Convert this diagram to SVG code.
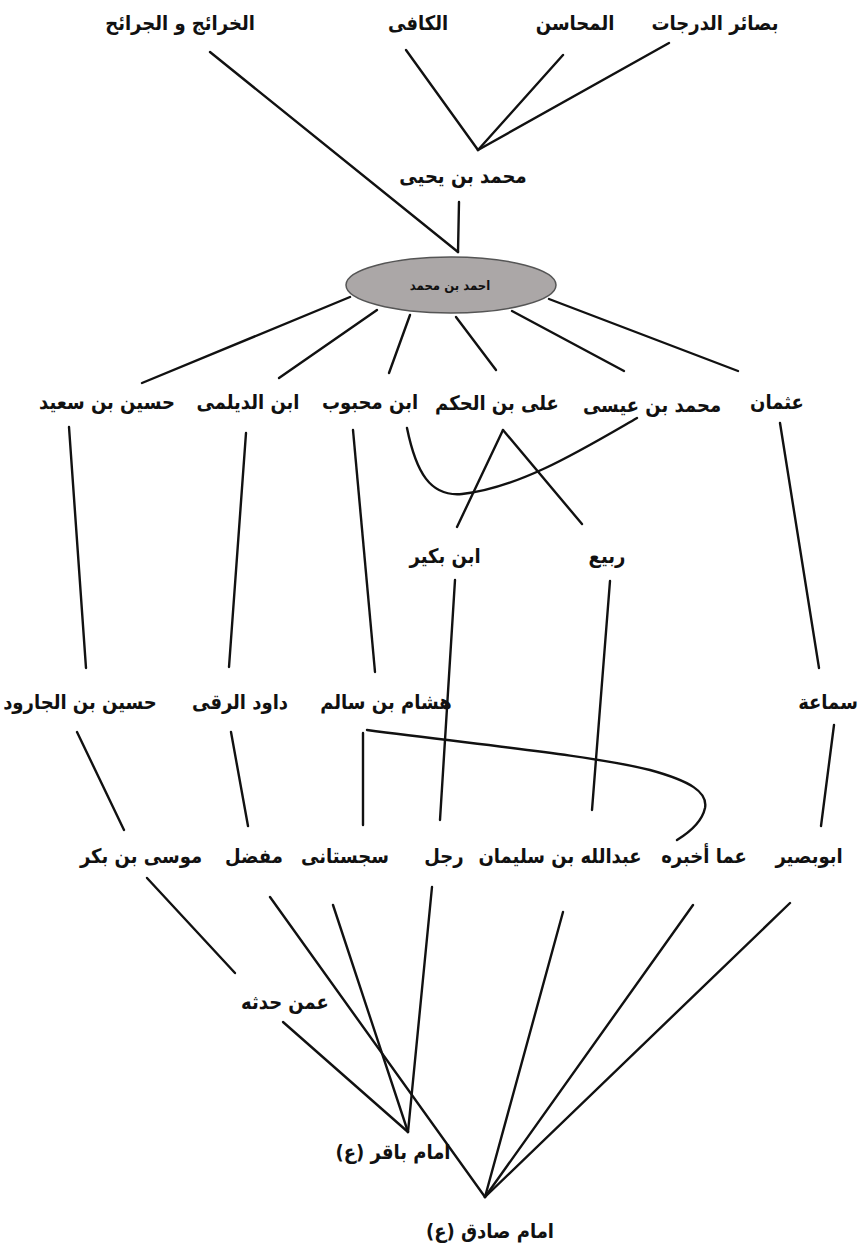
<svg xmlns="http://www.w3.org/2000/svg" width="861" height="1252" viewBox="0 0 861 1252">
<style>
.t{font-family:"DejaVu Sans Condensed","DejaVu Sans","Noto Sans",sans-serif;font-weight:bold;font-size:20px;fill:#111;text-anchor:middle;dominant-baseline:middle}
.s{font-size:13px}
.c line,.c path{stroke:#111;stroke-width:2.4;fill:none;stroke-linecap:round}
</style>
<rect width="861" height="1252" fill="#fff"/>
<g class="c" id="connectors">
<line x1="210" y1="52" x2="458" y2="252"/>
<line x1="406" y1="50" x2="478" y2="150"/>
<line x1="563" y1="55" x2="478" y2="150"/>
<line x1="669" y1="43" x2="478" y2="150"/>
<line x1="459" y1="202" x2="458" y2="252"/>
<line x1="350" y1="297" x2="142" y2="383"/>
<line x1="377" y1="310" x2="279" y2="378"/>
<line x1="410" y1="315" x2="389" y2="373"/>
<line x1="456" y1="317" x2="496" y2="370"/>
<line x1="512" y1="311" x2="624" y2="371"/>
<line x1="549" y1="299" x2="738" y2="371"/>
<line x1="69" y1="427" x2="86" y2="668"/>
<line x1="246" y1="433" x2="229" y2="667"/>
<line x1="353" y1="430" x2="375" y2="672"/>
<line x1="780" y1="423" x2="819" y2="668"/>
<path d="M407,428 C416,472 430,497 462,494 C520,488 585,448 637,418"/>
<line x1="503" y1="430" x2="457" y2="527"/>
<line x1="503" y1="430" x2="582" y2="524"/>
<line x1="455" y1="580" x2="440" y2="820"/>
<line x1="610" y1="581" x2="592" y2="810"/>
<line x1="77" y1="732" x2="124" y2="830"/>
<line x1="231" y1="732" x2="248" y2="826"/>
<line x1="363" y1="733" x2="363" y2="825"/>
<path d="M367,730 C480,745 590,755 650,770 C690,781 708,792 705,808 C702,822 690,832 677,840"/>
<line x1="834" y1="725" x2="821" y2="826"/>
<line x1="147" y1="878" x2="235" y2="973"/>
<line x1="283" y1="1022" x2="408" y2="1132"/>
<line x1="270" y1="897" x2="485" y2="1197"/>
<line x1="333" y1="905" x2="408" y2="1132"/>
<line x1="432" y1="887" x2="408" y2="1132"/>
<line x1="563" y1="912" x2="485" y2="1197"/>
<line x1="693" y1="905" x2="485" y2="1197"/>
<line x1="790" y1="903" x2="485" y2="1197"/>
</g>
<g id="n-kharaij"><text class="t" x="180" y="24">الخرائج و الجرائح</text></g>
<g id="n-kafi"><text class="t" x="418" y="24">الكافى</text></g>
<g id="n-mahasin"><text class="t" x="575" y="24">المحاسن</text></g>
<g id="n-basair"><text class="t" x="715" y="24">بصائر الدرجات</text></g>
<g id="n-myahya"><text class="t" x="463" y="177">محمد بن يحيى</text></g>
<g id="n-ahmad"><ellipse cx="451" cy="285" rx="105" ry="28" fill="#aba7a7" stroke="#555" stroke-width="1.5"/><text class="t s" x="450" y="286">احمد بن محمد</text></g>
<g id="n-husaynsaid"><text class="t" x="107" y="403">حسين بن سعيد</text></g>
<g id="n-daylami"><text class="t" x="248" y="403">ابن الديلمى</text></g>
<g id="n-mahbub"><text class="t" x="370" y="403">ابن محبوب</text></g>
<g id="n-alihakam"><text class="t" x="497" y="404">على بن الحكم</text></g>
<g id="n-misa"><text class="t" x="652" y="406">محمد بن عيسى</text></g>
<g id="n-uthman"><text class="t" x="777" y="403">عثمان</text></g>
<g id="n-bukayr"><text class="t" x="445" y="557">ابن بكير</text></g>
<g id="n-rabi"><text class="t" x="607" y="557">ربيع</text></g>
<g id="n-jarud"><text class="t" x="80" y="703">حسين بن الجارود</text></g>
<g id="n-raqqi"><text class="t" x="240" y="703">داود الرقى</text></g>
<g id="n-hisham"><text class="t" x="386" y="703">هشام بن سالم</text></g>
<g id="n-samaa"><text class="t" x="828" y="703">سماعة</text></g>
<g id="n-musa"><text class="t" x="141" y="857">موسى بن بكر</text></g>
<g id="n-mufaddal"><text class="t" x="254" y="857">مفضل</text></g>
<g id="n-sijistani"><text class="t" x="345" y="857">سجستانى</text></g>
<g id="n-rajul"><text class="t" x="444" y="857">رجل</text></g>
<g id="n-abdullah"><text class="t" x="560" y="857">عبدالله بن سليمان</text></g>
<g id="n-ammaakh"><text class="t" x="704" y="857">عما أخبره</text></g>
<g id="n-abubasir"><text class="t" x="809" y="857">ابوبصير</text></g>
<g id="n-ammanh"><text class="t" x="285" y="1003">عمن حدثه</text></g>
<g id="n-baqir"><text class="t" x="393" y="1153">امام باقر (ع)</text></g>
<g id="n-sadiq"><text class="t" x="490" y="1232">امام صادق (ع)</text></g>
</svg>
